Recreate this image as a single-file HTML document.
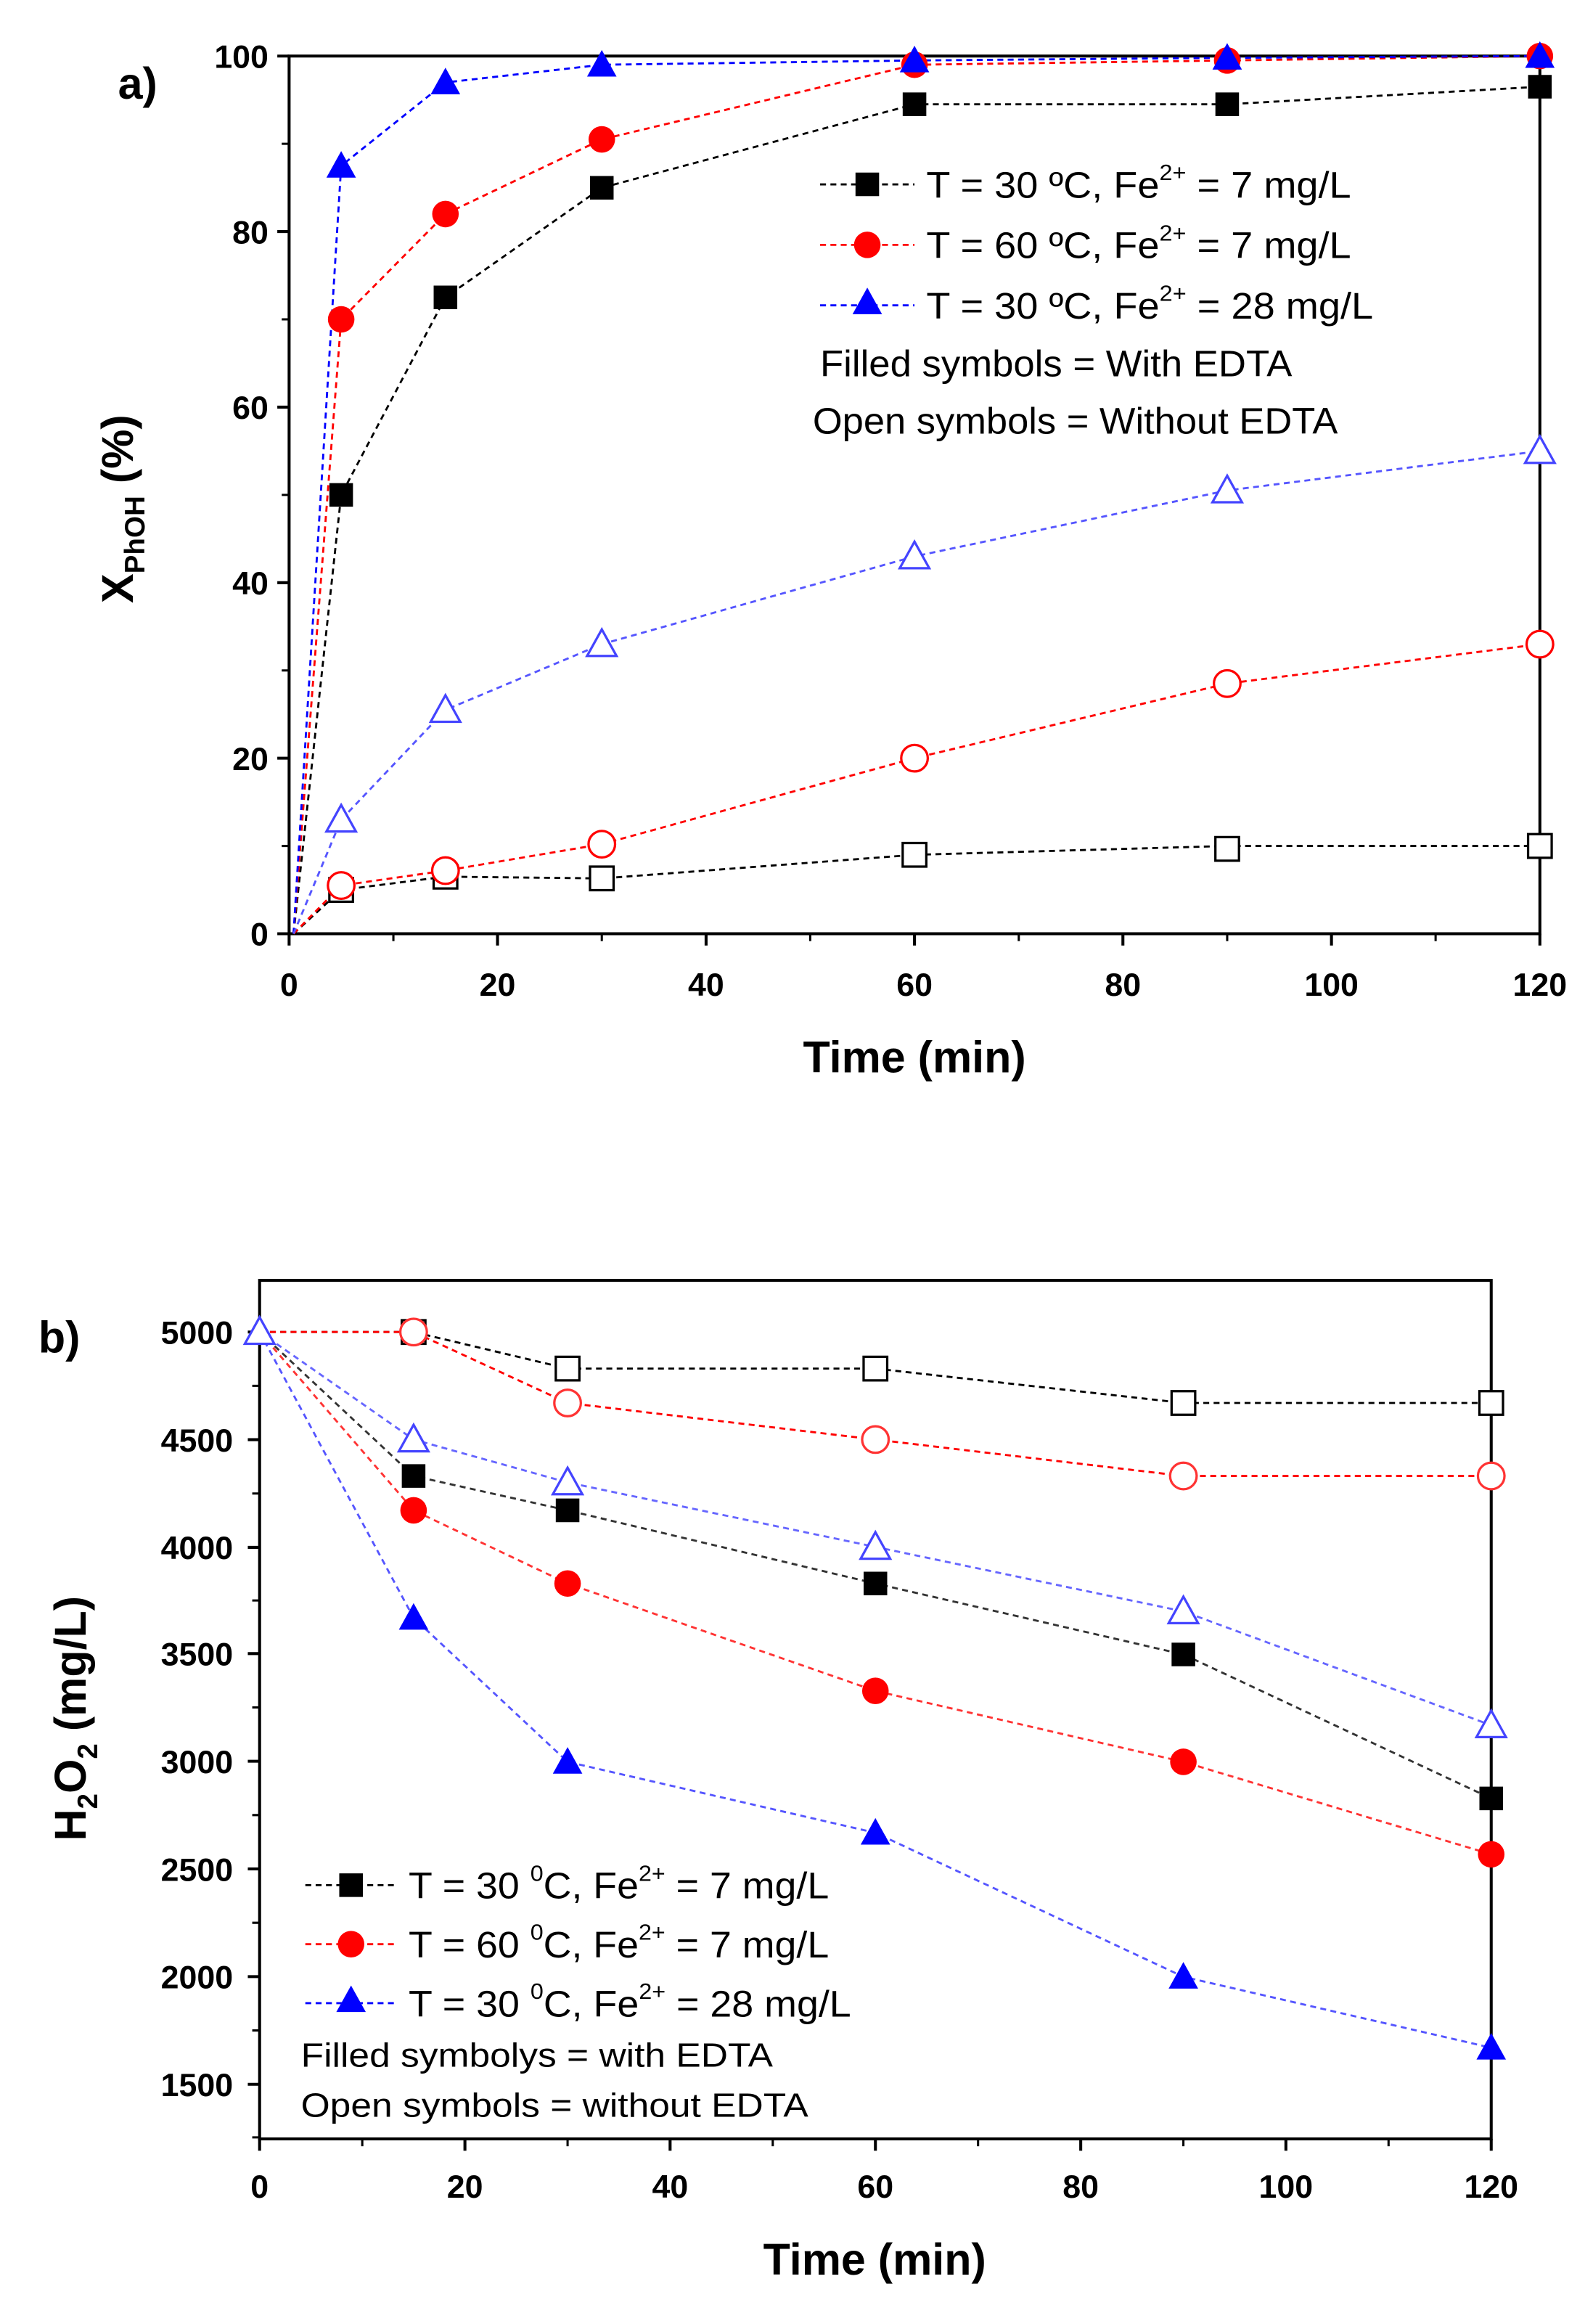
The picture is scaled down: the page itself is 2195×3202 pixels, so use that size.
<!DOCTYPE html>
<html><head><meta charset="utf-8"><style>
html,body{margin:0;padding:0;background:#fff}
svg{display:block}
text{font-family:"Liberation Sans",sans-serif;fill:#000}
.t{font-size:22px;font-weight:bold}
.lg{font-size:25px}
.ax{font-size:30px;font-weight:bold}
</style></head><body>
<svg width="2195" height="3202" viewBox="0 0 1080 1575.5" xmlns="http://www.w3.org/2000/svg">
<defs>
<path id="sq" d="M-8,-8H8V8H-8Z"/>
<circle id="ci" r="9"/>
<path id="tr" d="M0,-10L10,8H-10Z"/>
</defs>

<!-- ================= PANEL A ================= -->
<g fill="none" stroke="#000" stroke-width="2">
<rect x="196" y="38" width="848" height="595"/>
<path d="M196,633v8M337.3,633v8M478.7,633v8M620,633v8M761.3,633v8M902.7,633v8M1044,633v8" />
<path d="M266.7,633v5M408,633v5M549.3,633v5M690.7,633v5M832,633v5M973.3,633v5" stroke-width="1.5"/>
<path d="M196,633h-8M196,514h-8M196,395h-8M196,276h-8M196,157h-8M196,38h-8"/>
<path d="M196,573.5h-5M196,454.5h-5M196,335.5h-5M196,216.5h-5M196,97.5h-5" stroke-width="1.5"/>
</g>
<g class="t" text-anchor="middle">
<text x="196" y="675">0</text><text x="337.3" y="675">20</text><text x="478.7" y="675">40</text><text x="620" y="675">60</text><text x="761.3" y="675">80</text><text x="902.7" y="675">100</text><text x="1044" y="675">120</text>
</g>
<g class="t" text-anchor="end">
<text x="182" y="641">0</text><text x="182" y="522">20</text><text x="182" y="403">40</text><text x="182" y="284">60</text><text x="182" y="165">80</text><text x="182" y="46">100</text>
</g>
<text class="ax" x="620" y="727" text-anchor="middle">Time (min)</text>
<text class="ax" x="80" y="67" font-size="26">a)</text>
<text class="ax" transform="translate(90,345) rotate(-90)" text-anchor="middle">X<tspan font-size="19" dy="8">PhOH</tspan><tspan dy="-8"> (%)</tspan></text>

<g fill="none" stroke-width="1.4" stroke-dasharray="4,3">
<polyline stroke="#000" points="199,633 231.3,335.5 302,201.6 408,127.3 620,70.7 832,70.7 1044,58.8"/>
<polyline stroke="#f00" points="199,633 231.3,216.5 302,145.1 408,94.5 620,43.9 832,41 1044,38"/>
<polyline stroke="#00f" points="199,633 231.3,112.4 302,55.9 408,43.9 620,41 832,39.2 1044,38"/>
<polyline stroke="#000" points="199,633 231.3,603.3 302,594.3 408,595.5 620,579.5 832,573.5 1044,573.5"/>
<polyline stroke="#f00" points="199,633 231.3,600.3 302,590.2 408,572.3 620,514 832,463.4 1044,436.7"/>
<polyline stroke="#55f" points="199,633 231.3,555.7 302,481.3 408,436.7 620,377.2 832,332.5 1044,305.8"/>
</g>
<g fill="#000"><use href="#sq" x="231.3" y="335.5"/><use href="#sq" x="302" y="201.6"/><use href="#sq" x="408" y="127.3"/><use href="#sq" x="620" y="70.7"/><use href="#sq" x="832" y="70.7"/><use href="#sq" x="1044" y="58.8"/></g>
<g fill="#f00"><use href="#ci" x="231.3" y="216.5"/><use href="#ci" x="302" y="145.1"/><use href="#ci" x="408" y="94.5"/><use href="#ci" x="620" y="43.9"/><use href="#ci" x="832" y="41"/><use href="#ci" x="1044" y="38"/></g>
<g fill="#00f"><use href="#tr" x="231.3" y="112.4"/><use href="#tr" x="302" y="55.9"/><use href="#tr" x="408" y="43.9"/><use href="#tr" x="620" y="41"/><use href="#tr" x="832" y="39.2"/><use href="#tr" x="1044" y="38"/></g>
<g fill="#fff" stroke="#000" stroke-width="1.6"><use href="#sq" x="231.3" y="603.3"/><use href="#sq" x="302" y="594.3"/><use href="#sq" x="408" y="595.5"/><use href="#sq" x="620" y="579.5"/><use href="#sq" x="832" y="575.5"/><use href="#sq" x="1044" y="573.5"/></g>
<g fill="#fff" stroke="#f00" stroke-width="1.6"><use href="#ci" x="231.3" y="600.3"/><use href="#ci" x="302" y="590.2"/><use href="#ci" x="408" y="572.3"/><use href="#ci" x="620" y="514"/><use href="#ci" x="832" y="463.4"/><use href="#ci" x="1044" y="436.7"/></g>
<g fill="#fff" stroke="#44f" stroke-width="1.6"><use href="#tr" x="231.3" y="555.7"/><use href="#tr" x="302" y="481.3"/><use href="#tr" x="408" y="436.7"/><use href="#tr" x="620" y="377.2"/><use href="#tr" x="832" y="332.5"/><use href="#tr" x="1044" y="305.8"/></g>

<!-- legend a -->
<g fill="none" stroke-width="1.4" stroke-dasharray="4,3">
<path stroke="#000" d="M556,125H620"/><path stroke="#f00" d="M556,166H620"/><path stroke="#00f" d="M556,207H620"/>
</g>
<use href="#sq" x="588" y="125" fill="#000"/><use href="#ci" x="588" y="166" fill="#f00"/><use href="#tr" x="588" y="205" fill="#00f"/>
<g class="lg">
<text x="628" y="134" textLength="288" lengthAdjust="spacingAndGlyphs">T = 30 ºC, Fe<tspan font-size="15" dy="-12">2+</tspan><tspan dy="12"> = 7 mg/L</tspan></text>
<text x="628" y="175" textLength="288" lengthAdjust="spacingAndGlyphs">T = 60 ºC, Fe<tspan font-size="15" dy="-12">2+</tspan><tspan dy="12"> = 7 mg/L</tspan></text>
<text x="628" y="216" textLength="303" lengthAdjust="spacingAndGlyphs">T = 30 ºC, Fe<tspan font-size="15" dy="-12">2+</tspan><tspan dy="12"> = 28 mg/L</tspan></text>
<text x="556" y="255" textLength="320" lengthAdjust="spacingAndGlyphs">Filled symbols = With EDTA</text>
<text x="551" y="294" textLength="356" lengthAdjust="spacingAndGlyphs">Open symbols = Without EDTA</text>
</g>

<!-- ================= PANEL B ================= -->
<g fill="none" stroke="#000" stroke-width="2">
<rect x="176" y="868" width="835" height="582"/>
<path d="M176,1450v8M315.2,1450v8M454.3,1450v8M593.5,1450v8M732.7,1450v8M871.8,1450v8M1011,1450v8"/>
<path d="M245.6,1450v5M384.8,1450v5M523.9,1450v5M663.1,1450v5M802.3,1450v5M941.4,1450v5" stroke-width="1.5"/>
<path d="M176,903h-8M176,976h-8M176,1049h-8M176,1121h-8M176,1194h-8M176,1267h-8M176,1340h-8M176,1413h-8"/>
<path d="M176,939.5h-5M176,1012.5h-5M176,1085h-5M176,1157.5h-5M176,1230.5h-5M176,1303.5h-5M176,1376.5h-5M176,1449h-5" stroke-width="1.5"/>
</g>
<g class="t" text-anchor="middle">
<text x="176" y="1490">0</text><text x="315.2" y="1490">20</text><text x="454.3" y="1490">40</text><text x="593.5" y="1490">60</text><text x="732.7" y="1490">80</text><text x="871.8" y="1490">100</text><text x="1011" y="1490">120</text>
</g>
<g class="t" text-anchor="end">
<text x="158" y="911">5000</text><text x="158" y="984">4500</text><text x="158" y="1057">4000</text><text x="158" y="1129">3500</text><text x="158" y="1202">3000</text><text x="158" y="1275">2500</text><text x="158" y="1348">2000</text><text x="158" y="1421">1500</text>
</g>
<text class="ax" x="593" y="1542" text-anchor="middle">Time (min)</text>
<text class="ax" x="26" y="917" font-size="26">b)</text>
<text class="ax" transform="translate(58,1165) rotate(-90)" text-anchor="middle">H<tspan font-size="19" dy="8">2</tspan><tspan dy="-8">O</tspan><tspan font-size="19" dy="8">2</tspan><tspan dy="-8"> (mg/L)</tspan></text>

<g fill="none" stroke-width="1.4" stroke-dasharray="4,3">
<polyline stroke="#000" points="176,903 280.4,903 384.8,927.8 593.5,927.8 802.3,951.1 1011,951.1"/>
<polyline stroke="#f00" points="176,903 280.4,903 384.8,951.1 593.5,975.9 802.3,1000.6 1011,1000.6"/>
<polyline stroke="#66f" points="176,903 280.4,975.9 384.8,1005 593.5,1048.7 802.3,1092.4 1011,1169.6"/>
<polyline stroke="#333" points="176,903 280.4,1000.6 384.8,1023.9 593.5,1073.5 802.3,1121.6 1011,1219.2"/>
<polyline stroke="#f33" points="176,903 280.4,1023.9 384.8,1073.5 593.5,1146.3 802.3,1194.4 1011,1257.1"/>
<polyline stroke="#55f" points="176,903 280.4,1096.8 384.8,1194.4 593.5,1242.5 802.3,1340.1 1011,1388.2"/>
</g>
<g fill="#fff" stroke="#000" stroke-width="1.6"><use href="#sq" x="280.4" y="903"/><use href="#sq" x="384.8" y="927.8"/><use href="#sq" x="593.5" y="927.8"/><use href="#sq" x="802.3" y="951.1"/><use href="#sq" x="1011" y="951.1"/></g>
<g fill="#fff" stroke="#f33" stroke-width="1.6"><use href="#ci" x="280.4" y="903"/><use href="#ci" x="384.8" y="951.1"/><use href="#ci" x="593.5" y="975.9"/><use href="#ci" x="802.3" y="1000.6"/><use href="#ci" x="1011" y="1000.6"/></g>
<g fill="#fff" stroke="#44f" stroke-width="1.6"><use href="#tr" x="176" y="903"/><use href="#tr" x="280.4" y="975.9"/><use href="#tr" x="384.8" y="1005"/><use href="#tr" x="593.5" y="1048.7"/><use href="#tr" x="802.3" y="1092.4"/><use href="#tr" x="1011" y="1169.6"/></g>
<g fill="#000"><use href="#sq" x="280.4" y="1000.6"/><use href="#sq" x="384.8" y="1023.9"/><use href="#sq" x="593.5" y="1073.5"/><use href="#sq" x="802.3" y="1121.6"/><use href="#sq" x="1011" y="1219.2"/></g>
<g fill="#f00"><use href="#ci" x="280.4" y="1023.9"/><use href="#ci" x="384.8" y="1073.5"/><use href="#ci" x="593.5" y="1146.3"/><use href="#ci" x="802.3" y="1194.4"/><use href="#ci" x="1011" y="1257.1"/></g>
<g fill="#00f"><use href="#tr" x="280.4" y="1096.8"/><use href="#tr" x="384.8" y="1194.4"/><use href="#tr" x="593.5" y="1242.5"/><use href="#tr" x="802.3" y="1340.1"/><use href="#tr" x="1011" y="1388.2"/></g>

<!-- legend b -->
<g fill="none" stroke-width="1.4" stroke-dasharray="4,3">
<path stroke="#000" d="M207,1278H270"/><path stroke="#f00" d="M207,1318H270"/><path stroke="#00f" d="M207,1358H270"/>
</g>
<use href="#sq" x="238" y="1278" fill="#000"/><use href="#ci" x="238" y="1318" fill="#f00"/><use href="#tr" x="238" y="1356" fill="#00f"/>
<g class="lg">
<text x="277" y="1287" textLength="285" lengthAdjust="spacingAndGlyphs">T = 30 <tspan font-size="15" dy="-12">0</tspan><tspan dy="12">C, Fe</tspan><tspan font-size="15" dy="-12">2+</tspan><tspan dy="12"> = 7 mg/L</tspan></text>
<text x="277" y="1327" textLength="285" lengthAdjust="spacingAndGlyphs">T = 60 <tspan font-size="15" dy="-12">0</tspan><tspan dy="12">C, Fe</tspan><tspan font-size="15" dy="-12">2+</tspan><tspan dy="12"> = 7 mg/L</tspan></text>
<text x="277" y="1367" textLength="300" lengthAdjust="spacingAndGlyphs">T = 30 <tspan font-size="15" dy="-12">0</tspan><tspan dy="12">C, Fe</tspan><tspan font-size="15" dy="-12">2+</tspan><tspan dy="12"> = 28 mg/L</tspan></text>
<text x="204" y="1401" font-size="23" textLength="320" lengthAdjust="spacingAndGlyphs">Filled symbolys = with EDTA</text>
<text x="204" y="1435" font-size="23" textLength="344" lengthAdjust="spacingAndGlyphs">Open symbols = without EDTA</text>
</g>
</svg>
</body></html>
